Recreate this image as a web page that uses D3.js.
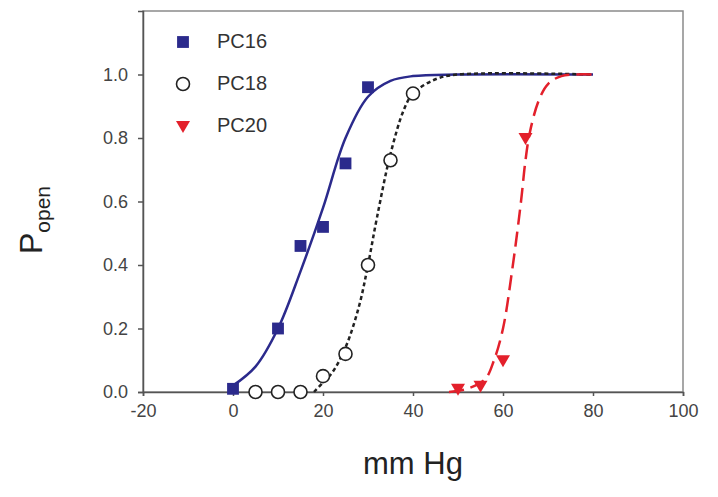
<!DOCTYPE html>
<html>
<head>
<meta charset="utf-8">
<script src="https://cdn.jsdelivr.net/npm/d3@7"></script>
<style>
  body { margin: 0; background: #fff; }
  text { font-family: "Liberation Sans", Arial, sans-serif; }
</style>
</head>
<body>
<div class="chart"></div>
<script>
// tick values
const xTicks = [-20, 0, 20, 40, 60, 80, 100];
const yTicks = [0, 0.2, 0.4, 0.6, 0.8, 1.0];

// measured points
const pc16X = [0, 10, 15, 20, 25, 30];
const pc16Y = [0.01, 0.20, 0.46, 0.52, 0.72, 0.96];
const pc18X = [5, 10, 15, 20, 25, 30, 35, 40];
const pc18Y = [0, 0, 0, 0.05, 0.12, 0.40, 0.73, 0.94];
const pc20X = [50, 55, 60, 65];
const pc20Y = [0.01, 0.02, 0.10, 0.80];

// fitted curves
const fit16X = [0, 5, 10, 15, 20, 25, 30, 35, 40, 50, 80];
const fit16Y = [0.02, 0.08, 0.20, 0.38, 0.58, 0.80, 0.93, 0.98, 0.995, 1.0, 1.0];
const fit18X = [18, 20, 22, 25, 28, 30, 32, 35, 38, 40, 45, 50, 80];
const fit18Y = [0.0, 0.03, 0.06, 0.14, 0.27, 0.40, 0.55, 0.75, 0.89, 0.94, 0.985, 1.0, 1.0];
const fit20X = [48, 52, 56, 58, 60, 62, 64, 65, 66, 68, 70, 73, 80];
const fit20Y = [0.0, 0.01, 0.04, 0.10, 0.20, 0.38, 0.60, 0.73, 0.82, 0.92, 0.97, 0.995, 1.0];

const legendLabels = ["PC16", "PC18", "PC20"];

const blue = "#2b2a8c", red = "#e3202b", dark = "#222";

const svg = d3.select(".chart").append("svg")
  .attr("width", 718)
  .attr("height", 497);

const x = d3.scaleLinear().domain([-20, 100]).range([143, 683]);
const y = d3.scaleLinear().domain([0, 1.2]).range([392, 11]);

// frame
svg.append("rect")
  .attr("x", x(-20)).attr("y", y(1.2))
  .attr("width", x(100) - x(-20)).attr("height", y(0) - y(1.2))
  .attr("fill", "none").attr("stroke", "#8a8a8a").attr("stroke-width", 1.5);

// x axis
const xAxis = svg.append("g")
  .attr("transform", `translate(0,${y(0)})`)
  .call(d3.axisBottom(x).tickValues(xTicks).tickFormat(d => String(d)).tickSize(4).tickPadding(8));
// y axis
const yAxis = svg.append("g")
  .attr("transform", `translate(${x(-20)},0)`)
  .call(d3.axisLeft(y).tickValues(yTicks).tickFormat(d => d.toFixed(1)).tickSize(5).tickPadding(10));

[xAxis, yAxis].forEach(g => {
  g.select(".domain").attr("stroke", "#555").attr("stroke-width", 1.5);
  g.selectAll(".tick line").attr("stroke", "#555").attr("stroke-width", 1.5);
  g.selectAll(".tick text").attr("fill", "#444").style("font-size", "18px");
});

// fitted curves
const line = d3.line().x(d => x(d[0])).y(d => y(d[1])).curve(d3.curveCatmullRom.alpha(0.5));
const zip = (a, b) => a.map((v, i) => [v, b[i]]);

svg.append("path").datum(zip(fit16X, fit16Y))
  .attr("d", line).attr("fill", "none")
  .attr("stroke", blue).attr("stroke-width", 2.5);
svg.append("path").datum(zip(fit18X, fit18Y))
  .attr("d", line).attr("fill", "none")
  .attr("stroke", dark).attr("stroke-width", 2.5).attr("stroke-dasharray", "4,3");
svg.append("path").datum(zip(fit20X, fit20Y))
  .attr("d", line).attr("fill", "none")
  .attr("stroke", red).attr("stroke-width", 2.5).attr("stroke-dasharray", "15,7");

// markers
const sq = d3.symbol().type(d3.symbolSquare).size(140)();
const tri = "M-7,-5L7,-5L0,7Z";

svg.selectAll(".pc18").data(zip(pc18X, pc18Y)).enter().append("circle")
  .attr("class", "pc18")
  .attr("cx", d => x(d[0])).attr("cy", d => y(d[1])).attr("r", 6.5)
  .attr("fill", "#fff").attr("stroke", dark).attr("stroke-width", 1.6);

svg.selectAll(".pc16").data(zip(pc16X, pc16Y)).enter().append("path")
  .attr("class", "pc16")
  .attr("transform", d => `translate(${x(d[0])},${y(d[1])})`)
  .attr("d", sq).attr("fill", blue);

svg.selectAll(".pc20").data(zip(pc20X, pc20Y)).enter().append("path")
  .attr("class", "pc20")
  .attr("transform", d => `translate(${x(d[0])},${y(d[1])})`)
  .attr("d", tri).attr("fill", red);

// legend
const legend = svg.append("g");
legend.append("path").attr("transform", "translate(183,42)").attr("d", sq).attr("fill", blue);
legend.append("circle").attr("cx", 183).attr("cy", 84).attr("r", 6.5)
  .attr("fill", "#fff").attr("stroke", dark).attr("stroke-width", 1.6);
legend.append("path").attr("transform", "translate(183,126)").attr("d", tri).attr("fill", red);
legend.selectAll("text").data(legendLabels).enter().append("text")
  .attr("x", 217).attr("y", (d, i) => 41 + i * 42)
  .attr("dy", "0.35em")
  .attr("fill", "#333").style("font-size", "20px")
  .text(d => d);

// axis titles
svg.append("text")
  .attr("x", 413).attr("y", 474)
  .attr("text-anchor", "middle")
  .attr("fill", dark).style("font-size", "31px")
  .text("mm Hg");

const yTitle = svg.append("text")
  .attr("transform", "translate(42,220) rotate(-90)")
  .attr("text-anchor", "middle")
  .attr("fill", dark).style("font-size", "32px");
yTitle.append("tspan").text("P");
yTitle.append("tspan").attr("dy", 8).style("font-size", "21px").text("open");
</script>
</body>
</html>
